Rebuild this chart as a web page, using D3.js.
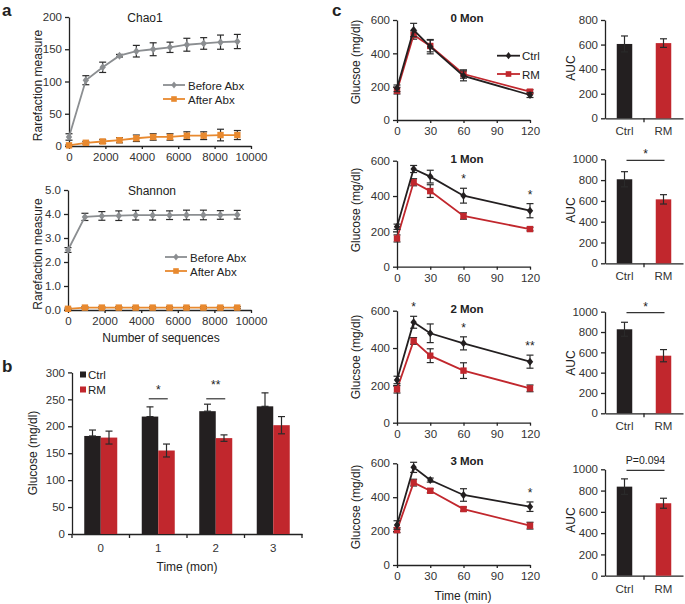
<!DOCTYPE html>
<html><head><meta charset="utf-8">
<script src="https://cdn.jsdelivr.net/npm/d3@7"></script>
<style>
body{margin:0;background:#fff;}
svg{font-family:"Liberation Sans",Arial,sans-serif;}
.tick text{font-size:11.5px;fill:#333;}
.domain,.tick line{stroke:#222;stroke-width:1.3px;}
</style></head>
<body>
<svg id="c" width="685" height="604"></svg>
<script>
// ---------- DATA ----------
const seqDepth = [0,925,1850,2775,3700,4625,5550,6475,7400,8325,9250];
const chaoBefore = [14,102,122,140,147,150,153,157,159,161,162];
const chaoBeforeErr = [5,7,8,2,9,10,8,10,9,11,11];
const chaoAfter = [1,5,7,9,12,14,14,16,16,17,17];
const chaoAfterErr = [1,2,3,4,5,5,5,6,6,9,7];
const shanBefore = [2.5,3.88,3.92,3.93,3.95,3.95,3.95,3.96,3.96,3.96,3.97];
const shanBeforeErr = [0.1,0.15,0.18,0.2,0.2,0.2,0.18,0.2,0.2,0.18,0.18];
const shanAfter = [0.05,0.1,0.1,0.1,0.1,0.1,0.1,0.1,0.1,0.1,0.1];
const shanAfterErr = [0.03,0.04,0.04,0.04,0.04,0.04,0.04,0.04,0.04,0.04,0.04];

const monthCats = ["0","1","2","3"];
const fastCtrl = [182,218,228,237];
const fastCtrlErr = [11,18,13,25];
const fastRM = [179,155,178,202];
const fastRMErr = [12,12,6,16];
const fastSig = [null,"*","**",null];

const gttTimes = [0,15,30,60,120];
const gttTitles = ["0 Mon","1 Mon","2 Mon","3 Mon"];
const gttYLabels = ["Glucsoe (mg/dl)","Glucose (mg/dl)","Glucsoe (mg/dl)","Glucose (mg/dl)"];
const gttCtrl = [[190,540,440,265,150],[226,553,510,402,317],[229,538,479,425,327],[236,576,501,413,344]];
const gttCtrlErr = [[20,40,43,30,15],[15,20,36,42,40],[20,32,50,35,35],[25,30,12,37,28]];
const gttRM = [[176,510,444,276,170],[160,478,428,287,213],[179,438,359,279,184],[206,486,438,330,232]];
const gttRMErr = [[20,25,35,25,12],[20,20,36,18,10],[20,18,37,42,18],[15,20,12,12,20]];
const gttStars = [[],[[60,"*"],[120,"*"]],[[15,"*"],[60,"*"],[120,"**"]],[[120,"*"]]];

const aucCats = ["Ctrl","RM"];
const aucCtrl = [605,808,827,837];
const aucCtrlErr = [65,73,69,73];
const aucRM = [612,615,567,681];
const aucRMErr = [35,45,60,47];
const aucMax = [800,1000,1000,1000];
const aucSig = [null,"*","*","P=0.094"];

// ---------- STYLE ----------
const C = {grey:"#8b8e91", orange:"#e8892f", ctrl:"#231f20", rm:"#c1272d", err:"#2a2a2a"};
const svg = d3.select("#c");
const fmtInt = d3.format("d");

function text(x,y,t,opt={}){
  const el = svg.append("text").attr("x",x).attr("y",y).text(t)
    .attr("font-size",opt.size||12).attr("fill",opt.fill||"#222")
    .attr("text-anchor",opt.anchor||"middle");
  if(opt.bold) el.attr("font-weight","bold");
  if(opt.rot) el.attr("transform",`rotate(-90,${x},${y})`);
  return el;
}
function errBar(g,x,y1,y2,w=3.5,col=C.err){
  g.append("line").attr("x1",x).attr("x2",x).attr("y1",y1).attr("y2",y2).attr("stroke",col).attr("stroke-width",1.2);
  [y1,y2].forEach(y=>g.append("line").attr("x1",x-w).attr("x2",x+w).attr("y1",y).attr("y2",y).attr("stroke",col).attr("stroke-width",1.2));
}
function marker(g,type,x,y,col,s=3.2){
  if(type==="sq") g.append("rect").attr("x",x-s).attr("y",y-s).attr("width",2*s).attr("height",2*s).attr("fill",col);
  else g.append("path").attr("d",`M${x},${y-s-0.8}L${x+s},${y}L${x},${y+s+0.8}L${x-s},${y}Z`).attr("fill",col);
}
function series(g,xs,ys,errs,x,y,col,type){
  xs.forEach((d,i)=>errBar(g,x(d),y(ys[i]+errs[i]),y(Math.max(0,ys[i]-errs[i]))));
  g.append("path").datum(xs.map((d,i)=>[d,ys[i]]))
    .attr("d",d3.line().x(d=>x(d[0])).y(d=>y(d[1])))
    .attr("fill","none").attr("stroke",col).attr("stroke-width",1.8);
  xs.forEach((d,i)=>marker(g,type,x(d),y(ys[i]),col));
}

// ---------- PANEL a ----------
function rarefaction(cfg){
  const g = svg.append("g");
  const x = d3.scaleLinear().domain([0,10000]).range([cfg.x0,cfg.x1]);
  const y = d3.scaleLinear().domain([0,cfg.ymax]).range([cfg.yb,cfg.yt]);
  g.append("g").attr("transform",`translate(0,${cfg.yb})`).call(d3.axisBottom(x).tickValues(d3.range(0,10001,2000)).tickFormat(fmtInt).tickSize(3).tickSizeOuter(0).tickPadding(4));
  g.append("g").attr("transform",`translate(${cfg.x0},0)`).call(d3.axisLeft(y).ticks(cfg.nt).tickFormat(cfg.fmt).tickSize(4).tickSizeOuter(0).tickPadding(3));
  series(g,seqDepth,cfg.after,cfg.afterErr,x,y,C.orange,"sq");
  series(g,seqDepth,cfg.before,cfg.beforeErr,x,y,C.grey,"dia");
  text(cfg.tx,cfg.yt+5,cfg.title,{size:12});
  text(42,(cfg.yt+cfg.yb)/2+4,"Rarefaction measure",{size:12,rot:true});
  // legend
  [[C.grey,"dia","Before Abx"],[C.orange,"sq","After Abx"]].forEach((l,i)=>{
    const ly = cfg.ly + i*14;
    g.append("line").attr("x1",cfg.lx).attr("x2",cfg.lx+22).attr("y1",ly).attr("y2",ly).attr("stroke",l[0]).attr("stroke-width",1.8);
    marker(g,l[1],cfg.lx+11,ly,l[0],2.8);
    text(cfg.lx+25,ly+4.5,l[2],{size:11.5,anchor:"start"});
  });
  return g;
}
rarefaction({x0:69,x1:251,yb:146,yt:17,ymax:200,nt:4,fmt:fmtInt,
  before:chaoBefore,beforeErr:chaoBeforeErr,after:chaoAfter,afterErr:chaoAfterErr,
  title:"Chao1",tx:145,lx:163,ly:85});
rarefaction({x0:68,x1:251,yb:310,yt:190,ymax:5,nt:5,fmt:d3.format(".1f"),
  before:shanBefore,beforeErr:shanBeforeErr,after:shanAfter,afterErr:shanAfterErr,
  title:"Shannon",tx:152,lx:165,ly:257});
text(161,342,"Number of sequences",{size:12});

// ---------- PANEL b ----------
{
  const g = svg.append("g");
  const x = d3.scaleBand().domain(monthCats).range([72,302]);
  const y = d3.scaleLinear().domain([0,300]).range([534,372.4]);
  const bw = 16.5;
  g.append("g").attr("transform","translate(72,0)").call(d3.axisLeft(y).tickValues(d3.range(0,301,50)).tickSize(4).tickSizeOuter(0).tickPadding(3));
  g.append("g").attr("transform","translate(0,534)").call(d3.axisBottom(x).tickSize(0).tickPadding(10));
  monthCats.concat(["end"]).forEach((c,i)=>{
    const xx = i<monthCats.length ? x(c) : x.range()[1];
    g.append("line").attr("x1",xx).attr("x2",xx).attr("y1",534).attr("y2",538).attr("stroke","#222").attr("stroke-width",1.3);
  });
  monthCats.forEach((c,i)=>{
    const cx = x(c)+x.bandwidth()/2;
    g.append("rect").attr("x",cx-bw).attr("y",y(fastCtrl[i])).attr("width",bw).attr("height",y(0)-y(fastCtrl[i])).attr("fill",C.ctrl);
    g.append("rect").attr("x",cx).attr("y",y(fastRM[i])).attr("width",bw).attr("height",y(0)-y(fastRM[i])).attr("fill",C.rm);
    errBar(g,cx-bw/2,y(fastCtrl[i]+fastCtrlErr[i]),y(fastCtrl[i]),3.5);
    errBar(g,cx+bw/2,y(fastRM[i]+fastRMErr[i]),y(fastRM[i]-fastRMErr[i]),3.5);
    if(fastSig[i]){
      g.append("line").attr("x1",cx-9.5).attr("x2",cx+9.5).attr("y1",y(251)).attr("y2",y(251)).attr("stroke","#333").attr("stroke-width",1.2);
      text(cx,y(251)-(fastSig[i]==="*"?5:10),fastSig[i],{size:12});
    }
  });
  // legend
  [[C.ctrl,"Ctrl",375],[C.rm,"RM",390]].forEach(l=>{
    g.append("rect").attr("x",80).attr("y",l[2]-3.5).attr("width",6).attr("height",6).attr("fill",l[0]);
    text(88,l[2]+4,l[1],{size:11.5,anchor:"start"});
  });
  text(37,453,"Glucose (mg/dl)",{size:12,rot:true});
  text(187,571,"Time (mon)",{size:12});
}

// ---------- PANEL c ----------
const rows = [
  {yb:120,yt:20,ayb:118.3,ayt:20,ylab:62,alab:68},
  {yb:266.7,yt:160.7,ayb:263.3,ayt:159.3,ylab:210,alab:210},
  {yb:422.7,yt:310.7,ayb:413.3,ayt:311.7,ylab:357,alab:363},
  {yb:565,yt:463.3,ayb:575.7,ayt:469.3,ylab:507,alab:520}
];
rows.forEach((r,m)=>{
  const g = svg.append("g");
  const x = d3.scaleLinear().domain([0,120]).range([397,530]);
  const y = d3.scaleLinear().domain([0,600]).range([r.yb,r.yt]);
  g.append("g").attr("transform",`translate(0,${r.yb})`).call(d3.axisBottom(x).tickValues([0,30,60,90,120]).tickSize(3).tickSizeOuter(0).tickPadding(4));
  g.append("g").attr("transform","translate(397,0)").call(d3.axisLeft(y).tickValues([0,200,400,600]).tickSize(4).tickSizeOuter(0).tickPadding(3));
  series(g,gttTimes,gttRM[m],gttRMErr[m],x,y,C.rm,"sq");
  series(g,gttTimes,gttCtrl[m],gttCtrlErr[m],x,y,C.ctrl,"dia");
  text(467,r.yt+2,gttTitles[m],{size:11.5,bold:true});
  text(360,r.ylab,gttYLabels[m],{size:12,rot:true});
  gttStars[m].forEach(s=>{
    const i = gttTimes.indexOf(s[0]);
    text(x(s[0]),y(gttCtrl[m][i]+gttCtrlErr[m][i])-5,s[1],{size:12});
  });
  if(m===0){
    [[C.ctrl,"dia","Ctrl",55.7],[C.rm,"sq","RM",74]].forEach(l=>{
      g.append("line").attr("x1",497).attr("x2",520).attr("y1",l[3]).attr("y2",l[3]).attr("stroke",l[0]).attr("stroke-width",1.8);
      marker(g,l[1],508.5,l[3],l[0],2.8);
      text(522,l[3]+4.5,l[2],{size:11.5,anchor:"start"});
    });
  }
  // AUC
  const xa = d3.scaleBand().domain(aucCats).range([605,683]);
  const ya = d3.scaleLinear().domain([0,aucMax[m]]).range([r.ayb,r.ayt]);
  g.append("g").attr("transform","translate(605,0)").call(d3.axisLeft(ya).tickValues(d3.range(0,aucMax[m]+1,200)).tickFormat(fmtInt).tickSize(4).tickSizeOuter(0).tickPadding(3));
  g.append("g").attr("transform",`translate(0,${r.ayb})`).call(d3.axisBottom(xa).tickSize(0).tickPadding(9));
  g.append("line").attr("x1",xa("RM")).attr("x2",xa("RM")).attr("y1",r.ayb).attr("y2",r.ayb+4).attr("stroke","#222").attr("stroke-width",1.3);
  const bw = 15.5;
  [[aucCtrl,aucCtrlErr,C.ctrl,"Ctrl"],[aucRM,aucRMErr,C.rm,"RM"]].forEach(s=>{
    const cx = xa(s[3])+xa.bandwidth()/2;
    const v = s[0][m], e = s[1][m];
    g.append("rect").attr("x",cx-bw/2).attr("y",ya(v)).attr("width",bw).attr("height",ya(0)-ya(v)).attr("fill",s[2]);
    errBar(g,cx,ya(v+e),ya(v-e),3.5);
  });
  if(aucSig[m]){
    const c1 = xa("Ctrl")+xa.bandwidth()/2+2, c2 = xa("RM")+xa.bandwidth()/2+1;
    const ly = ya(1000)+1;
    g.append("line").attr("x1",c1).attr("x2",c2).attr("y1",ly).attr("y2",ly).attr("stroke","#333").attr("stroke-width",1.2);
    if(aucSig[m]==="*") text((c1+c2)/2,ly-2,"*",{size:12});
    else text((c1+c2)/2,ly-6,aucSig[m],{size:10.5});
  }
  text(575,r.alab,"AUC",{size:12,rot:true});
});
text(463,600,"Time (min)",{size:12});

// panel letters
text(2,16,"a",{size:17,bold:true,anchor:"start"});
text(2,372,"b",{size:17,bold:true,anchor:"start"});
text(332,16,"c",{size:17,bold:true,anchor:"start"});
</script>
</body></html>
